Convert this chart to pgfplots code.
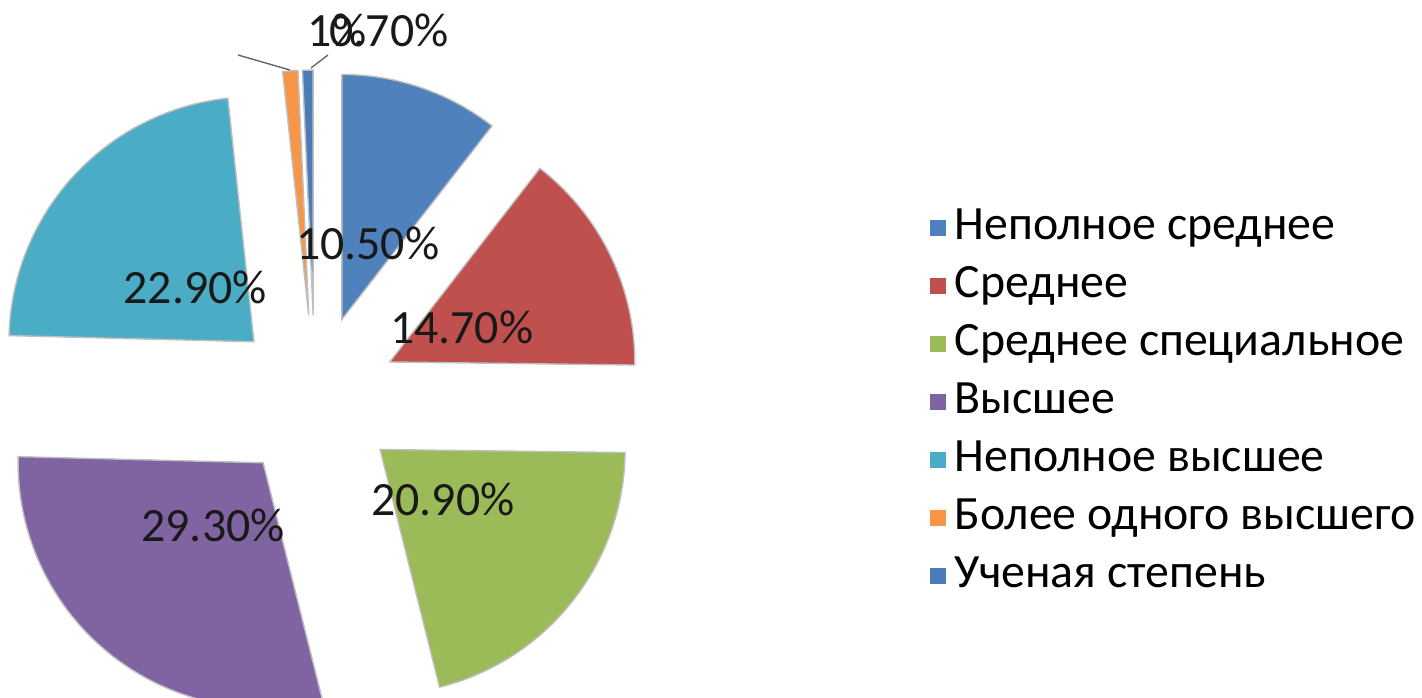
\documentclass[border=0pt]{standalone}
\usepackage{pgfplots}
\usepackage{pgfplotstable}
\pgfplotsset{compat=1.18}
\usepackage{fontspec}
\setmainfont{Carlito}

% Excel 2007 palette
\definecolor{c0}{HTML}{4F81BD}
\definecolor{c1}{HTML}{C0504D}
\definecolor{c2}{HTML}{9BBB59}
\definecolor{c3}{HTML}{8064A2}
\definecolor{c4}{HTML}{4BACC6}
\definecolor{c5}{HTML}{F79646}
\definecolor{c6}{HTML}{4A7CB8}

\newcommand\labfont{\fontsize{13.6}{16}\selectfont}

\pgfplotstableread{
val
10.5
14.7
20.9
29.3
22.9
1.0
0.7
}\pietable

\begin{document}
\begin{tikzpicture}
\begin{axis}[
  scale only axis, width=14.22cm, height=6.97cm,
  xmin=0, xmax=1422, ymin=0, ymax=697,
  hide axis, clip=true,
  legend style={at={(axis cs:929,491)}, anchor=north west, draw=none, fill=none,
    font=\labfont, text=black, row sep=0.15cm, inner sep=0pt,
    nodes={text height=0.33cm, text depth=0.1cm, inner sep=0pt}},
  legend cell align=left,
  legend image code/.code={\fill[#1, draw=none] (0cm,-0.08cm) rectangle (0.16cm,0.08cm);
    \path[draw=none, fill=none] (0cm,0cm) rectangle (0.25cm,0cm);},
]
% slices, exploded by 83 units from centre (315,299), radius 245 units = 2.45cm
\def\cum{0}
\pgfplotsforeachungrouped \i in {0,...,6}{
  \pgfplotstablegetelem{\i}{val}\of\pietable
  \let\v\pgfplotsretval
  \pgfmathsetmacro\aa{90-3.6*\cum}
  \pgfmathsetmacro\cumn{\cum+\v}
  \pgfmathsetmacro\ab{90-3.6*\cumn}
  \pgfmathsetmacro\mm{(\aa+\ab)/2}
  \pgfmathsetmacro\px{315+83*cos(\mm)}
  \pgfmathsetmacro\py{299+83*sin(\mm)}
  \edef\cmd{\noexpand\fill[fill=c\i, draw=black!25, line width=0.4pt]
    (axis cs:\px,\py) -- ++(\aa:2.45cm) arc[start angle=\aa, end angle=\ab, radius=2.45cm] -- cycle;}
  \cmd
  \let\cum\cumn
}
% labels
\def\cum{0}
\pgfplotsforeachungrouped \i in {0,...,4}{
  \pgfplotstablegetelem{\i}{val}\of\pietable
  \let\v\pgfplotsretval
  \pgfmathsetmacro\aa{90-3.6*\cum}
  \pgfmathsetmacro\cumn{\cum+\v}
  \pgfmathsetmacro\ab{90-3.6*\cumn}
  \pgfmathsetmacro\mm{(\aa+\ab)/2}
  \pgfmathsetmacro\lx{315+163*cos(\mm)}
  \pgfmathsetmacro\ly{299+163*sin(\mm)}
  \edef\cmd{\noexpand\node[text=black!90, font=\noexpand\labfont, inner sep=0pt]
    at (axis cs:\lx,\ly) {\noexpand\pgfmathprintnumber[fixed,fixed zerofill,precision=2,assume math mode=true]{\v}\noexpand\%};}
  \cmd
  \let\cum\cumn
}
\draw[black!60, line width=0.4pt] (axis cs:238,642) -- (axis cs:290,627);
\draw[black!60, line width=0.4pt] (axis cs:328,642) -- (axis cs:311,629);
\node[text=black!90, font=\labfont, inner sep=0pt] at (axis cs:337,667) {1\%};
\node[text=black!90, font=\labfont, inner sep=0pt] at (axis cs:389,667) {0.70\%};

\addlegendimage{fill=c0}\addlegendentry{Неполное среднее}
\addlegendimage{fill=c1}\addlegendentry{Среднее}
\addlegendimage{fill=c2}\addlegendentry{Среднее специальное}
\addlegendimage{fill=c3}\addlegendentry{Высшее}
\addlegendimage{fill=c4}\addlegendentry{Неполное высшее}
\addlegendimage{fill=c5}\addlegendentry{Более одного высшего}
\addlegendimage{fill=c6}\addlegendentry{Ученая степень}
\end{axis}
\pgfresetboundingbox
\path (current axis.south west) rectangle (current axis.north east);
\end{tikzpicture}
\end{document}
